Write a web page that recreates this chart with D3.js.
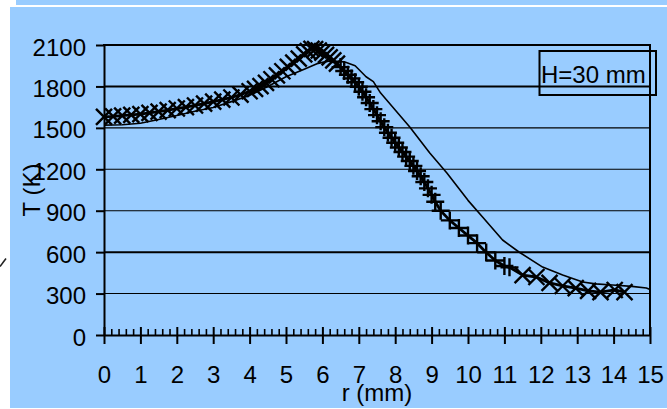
<!DOCTYPE html>
<html>
<head>
<meta charset="utf-8">
<script src="https://cdn.jsdelivr.net/npm/d3@7/dist/d3.min.js"></script>
<style>
  html, body { margin: 0; padding: 0; background: #ffffff; }
  svg { display: block; font-family: "Liberation Sans", Arial, sans-serif; }
</style>
</head>
<body>
<svg id="chart" width="667" height="409"></svg>
<script>
// Temperature profile across the flame, T (K) versus radius r (mm)
const yTicks = [0, 300, 600, 900, 1200, 1500, 1800, 2100];
const xTicks = [0, 1, 2, 3, 4, 5, 6, 7, 8, 9, 10, 11, 12, 13, 14, 15];
const xTitle = "r (mm)";
const yTitle = "T (K)";
const boxLabel = "H=30 mm";

// computed profile (thin line)
const modelR = [0, 0.5, 1, 1.5, 2, 2.5, 3, 3.5, 4, 4.5, 5, 5.5, 5.85, 6.2, 6.6, 6.9, 7.2, 7.4, 7.6, 8.0,
  8.4, 8.95, 9.42, 10, 10.4, 10.95, 11.4, 12.05, 12.6, 13.15, 13.5, 13.97, 14.5, 14.9, 15];
const modelT = [1520, 1522, 1533, 1560, 1590, 1620, 1648, 1690, 1735, 1800, 1870, 1925, 1965, 1985, 1978, 1950, 1870, 1835, 1752, 1630,
  1506, 1318, 1173, 975, 854, 688, 601, 492, 434, 384, 370, 362, 352, 340, 330];

// measured profile (marked line)
const measR = [0, 0.25, 0.5, 0.75, 1.0, 1.25, 1.5, 1.75, 2.0, 2.25, 2.5, 2.75, 3.0, 3.25, 3.5, 3.75, 4.0,
  4.15, 4.3, 4.45, 4.6, 4.75, 4.9, 5.05, 5.2, 5.35, 5.5, 5.6, 5.7, 5.8, 5.9, 6.0, 6.1, 6.2, 6.3, 6.4,
  6.5, 6.6, 6.7, 6.8, 6.9, 7.0, 7.1, 7.2, 7.3, 7.4, 7.5, 7.6, 7.7, 7.8, 7.9, 8.0, 8.1, 8.2, 8.3, 8.4,
  8.5, 8.6, 8.7, 8.8, 8.9, 9.0, 9.1, 9.25, 9.5, 9.75, 10.0, 10.25, 10.5, 10.75, 11.0, 11.14,
  11.5, 11.88, 12.24, 12.6, 12.96, 13.3, 13.64, 14.03, 14.3];
const measT = [1580, 1583, 1588, 1594, 1600, 1608, 1617, 1628, 1640, 1650, 1662, 1676, 1690, 1705, 1720, 1740, 1765,
  1782, 1802, 1826, 1852, 1880, 1910, 1942, 1972, 2002, 2032, 2055, 2072, 2070, 2060, 2045, 2028, 2010, 1988, 1965,
  1940, 1912, 1885, 1858, 1830, 1798, 1762, 1722, 1680, 1636, 1592, 1548, 1505, 1465, 1428, 1392, 1358, 1325, 1292, 1260,
  1225, 1188, 1150, 1108, 1062, 1015, 965, 900, 830, 775, 720, 665, 598, 540, 500, 490,
  434, 420, 377, 355, 340, 319, 311, 326, 311];

// marker style: upright crosses on the steep flank, diagonal crosses elsewhere
const plusSpan = [6.45, 11.3];
const boldGrid = [600, 1800];

const svg = d3.select("#chart");
const blue = "#99ccff";
const font = "'Liberation Sans', Arial, sans-serif";

// background panels
svg.append("rect").attr("x", 16).attr("y", 0).attr("width", 651).attr("height", 5).attr("fill", blue);
svg.append("rect").attr("x", 10).attr("y", 7).attr("width", 657).attr("height", 401).attr("fill", blue);
svg.append("line").attr("x1", 0).attr("y1", 266.5).attr("x2", 6).attr("y2", 258.5)
  .attr("stroke", "#222").attr("stroke-width", 1.6);

const x = d3.scaleLinear().domain([0, 15]).range([104, 650]);
const y = d3.scaleLinear().domain([0, 2100]).range([335, 45]);

// horizontal grid
svg.append("g").selectAll("line")
  .data(yTicks.filter(v => v > 0 && v < 2100))
  .join("line")
  .attr("x1", x(0)).attr("x2", x(15))
  .attr("y1", d => y(d)).attr("y2", d => y(d))
  .attr("stroke", "#000")
  .attr("stroke-width", d => boldGrid.includes(d) ? 2 : 1.1);

// frame: top and right edges
svg.append("line").attr("x1", x(0) - 1).attr("x2", x(15) + 1).attr("y1", y(2100)).attr("y2", y(2100))
  .attr("stroke", "#000").attr("stroke-width", 2);
svg.append("line").attr("x1", x(15)).attr("x2", x(15)).attr("y1", y(2100)).attr("y2", y(0))
  .attr("stroke", "#000").attr("stroke-width", 2);

// y axis
const yAxis = svg.append("g").attr("transform", `translate(${x(0)},0)`)
  .call(d3.axisLeft(y).tickValues(yTicks).tickSize(8).tickSizeOuter(0).tickPadding(10).tickFormat(d3.format("d")));
yAxis.select(".domain").attr("stroke", "#000").attr("stroke-width", 2);
yAxis.selectAll(".tick line").attr("stroke", "#000").attr("stroke-width", 2);
yAxis.selectAll(".tick text").attr("font-size", 24).attr("fill", "#000")
  .attr("font-family", font).attr("dy", "0.42em");

// x axis: minor ticks above, major ticks across the line
const minorTicks = x.ticks(75).filter(v => Math.abs(v - Math.round(v)) > 1e-6);
const xMinor = svg.append("g").attr("transform", `translate(0,${y(0)})`)
  .call(d3.axisTop(x).tickValues(minorTicks).tickSize(6).tickSizeOuter(0).tickFormat(""));
xMinor.select(".domain").remove();
xMinor.selectAll(".tick line").attr("stroke", "#000").attr("stroke-width", 1.6);

const xMajorUp = svg.append("g").attr("transform", `translate(0,${y(0)})`)
  .call(d3.axisTop(x).tickValues(xTicks).tickSize(8).tickSizeOuter(0).tickFormat(""));
xMajorUp.select(".domain").remove();
xMajorUp.selectAll(".tick line").attr("stroke", "#000").attr("stroke-width", 2);

const xAxis = svg.append("g").attr("transform", `translate(0,${y(0)})`)
  .call(d3.axisBottom(x).tickValues(xTicks).tickSize(9).tickSizeOuter(0).tickPadding(0).tickFormat(d3.format("d")));
xAxis.select(".domain").attr("stroke", "#000").attr("stroke-width", 2);
xAxis.selectAll(".tick line").attr("stroke", "#000").attr("stroke-width", 2);
xAxis.selectAll(".tick text").attr("font-size", 24).attr("fill", "#000")
  .attr("font-family", font)
  .attr("y", 48).attr("dy", 0);

// axis titles
svg.append("text").attr("x", (x(0) + x(15)) / 2).attr("y", 401)
  .attr("text-anchor", "middle").attr("font-size", 24).attr("fill", "#000").text(xTitle);
svg.append("text").attr("transform", "translate(39.5,190) rotate(-90)")
  .attr("text-anchor", "middle").attr("font-size", 24).attr("fill", "#000").text(yTitle);

// series
const model = modelR.map((r, i) => [r, modelT[i]]);
const meas = measR.map((r, i) => [r, measT[i]]);
const line = d3.line().x(d => x(d[0])).y(d => y(d[1]));

svg.append("path").datum(model).attr("d", line)
  .attr("fill", "none").attr("stroke", "#000").attr("stroke-width", 1.6).attr("stroke-linejoin", "round");

svg.append("path").datum(meas).attr("d", line)
  .attr("fill", "none").attr("stroke", "#000").attr("stroke-width", 2.8).attr("stroke-linejoin", "round");

const crossX = "M-8,-8L8,8M-8,8L8,-8";
const crossP = "M-9,0H9M0,-9V9";
svg.append("g").selectAll("path")
  .data(meas)
  .join("path")
  .attr("transform", d => `translate(${x(d[0])},${y(d[1])})`)
  .attr("d", d => (d[0] > plusSpan[0] && d[0] < plusSpan[1]) ? crossP : crossX)
  .attr("fill", "none").attr("stroke", "#000").attr("stroke-width", 2.4);

// label box
svg.append("rect").attr("x", 539.5).attr("y", 51).attr("width", 116.5).attr("height", 44)
  .attr("fill", "none").attr("stroke", "#000").attr("stroke-width", 2);
svg.append("text").attr("x", 541).attr("y", 83).attr("font-size", 24).attr("fill", "#000").text(boxLabel);
</script>
</body>
</html>
